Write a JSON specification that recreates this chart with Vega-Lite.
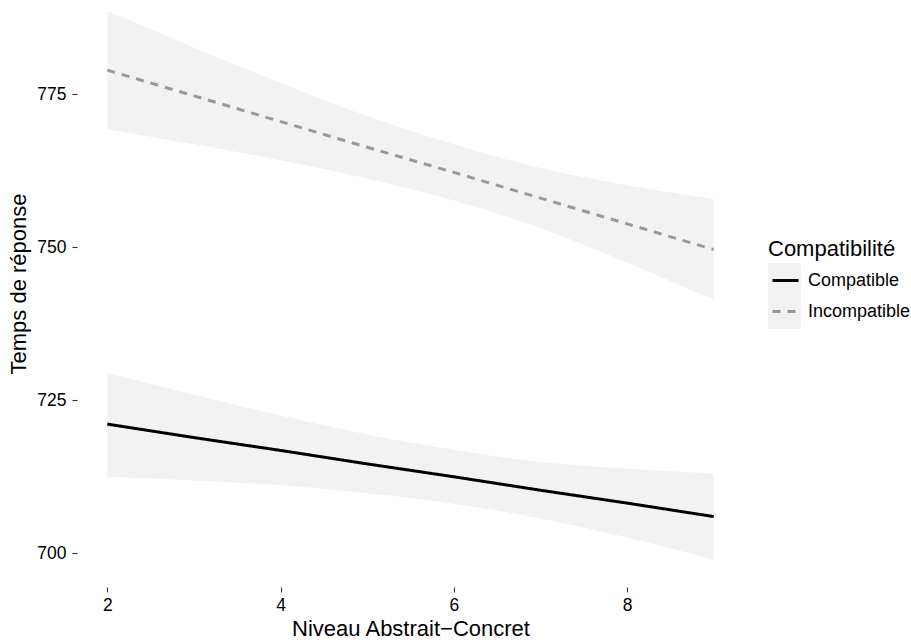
{
  "$schema": "https://vega.github.io/schema/vega-lite/v6.json",
  "width": 667,
  "height": 587,
  "autosize": "none",
  "padding": {"left": 77, "top": 0, "right": 167, "bottom": 57},
  "background": "white",
  "config": {
    "view": {"stroke": null},
    "font": "Liberation Sans",
    "axis": {
      "grid": false,
      "domain": false,
      "tickColor": "#333333",
      "tickSize": 5,
      "tickWidth": 1.1,
      "labelColor": "#000000",
      "labelFontSize": 17.5,
      "titleFontSize": 22,
      "titleFontWeight": "normal",
      "titleColor": "#000000"
    }
  },
  "data": {
    "values": [
      {"group": "Compatible", "x": 2, "fit": 721.1, "lo": 712.5, "hi": 729.5},
      {"group": "Compatible", "x": 3, "fit": 718.9, "lo": 711.9, "hi": 725.9},
      {"group": "Compatible", "x": 4, "fit": 716.8, "lo": 711.1, "hi": 722.5},
      {"group": "Compatible", "x": 5, "fit": 714.6, "lo": 709.8, "hi": 719.4},
      {"group": "Compatible", "x": 6, "fit": 712.5, "lo": 708.1, "hi": 716.9},
      {"group": "Compatible", "x": 7, "fit": 710.3, "lo": 705.7, "hi": 714.9},
      {"group": "Compatible", "x": 8, "fit": 708.2, "lo": 702.6, "hi": 713.8},
      {"group": "Compatible", "x": 9, "fit": 706.0, "lo": 698.95, "hi": 713.05},
      {"group": "Incompatible", "x": 2, "fit": 778.9, "lo": 769.2, "hi": 788.6},
      {"group": "Incompatible", "x": 3, "fit": 774.7, "lo": 766.8, "hi": 782.6},
      {"group": "Incompatible", "x": 4, "fit": 770.5, "lo": 764.2, "hi": 776.8},
      {"group": "Incompatible", "x": 5, "fit": 766.3, "lo": 761.2, "hi": 771.4},
      {"group": "Incompatible", "x": 6, "fit": 762.2, "lo": 757.6, "hi": 766.8},
      {"group": "Incompatible", "x": 7, "fit": 758.0, "lo": 753.1, "hi": 762.9},
      {"group": "Incompatible", "x": 8, "fit": 753.8, "lo": 747.5, "hi": 760.1},
      {"group": "Incompatible", "x": 9, "fit": 749.6, "lo": 741.35, "hi": 757.85}
    ]
  },
  "layer": [
    {
      "mark": {"type": "area", "interpolate": "monotone", "opacity": 1},
      "encoding": {
        "x": {
          "field": "x", "type": "quantitative",
          "scale": {"domain": [1.65, 9.35], "nice": false, "zero": false},
          "axis": {"values": [2, 4, 6, 8], "format": "d", "title": "Niveau Abstrait−Concret", "labelPadding": 4, "titleY": 48.7, "titleBaseline": "alphabetic"}
        },
        "y": {
          "field": "lo", "type": "quantitative",
          "scale": {"domain": [694.5, 790.35], "nice": false, "zero": false},
          "axis": {"values": [700, 725, 750, 775], "title": "Temps de réponse", "labelPadding": 6, "titleX": -52, "titleY": 283.5, "titleBaseline": "alphabetic"}
        },
        "y2": {"field": "hi"},
        "fill": {
          "field": "group", "type": "nominal",
          "scale": {"domain": ["Compatible", "Incompatible"], "range": ["#F2F2F2", "#F2F2F2"]},
          "legend": {"title": null, "orient": "none", "legendX": 691, "legendY": 263, "symbolType": "square", "symbolSize": 1089, "symbolStrokeWidth": 0, "symbolOpacity": 1, "labelExpr": "''", "labelFontSize": 17, "rowPadding": 0, "zindex": 0}
        }
      }
    },
    {
      "mark": {"type": "line", "strokeWidth": 3},
      "encoding": {
        "x": {"field": "x", "type": "quantitative"},
        "y": {"field": "fit", "type": "quantitative"},
        "color": {
          "field": "group", "type": "nominal",
          "scale": {"range": ["#000000", "#999999"]},
          "legend": {"title": "Compatibilité", "orient": "none", "legendX": 691, "legendY": 239, "titleFontSize": 22, "titleFontWeight": "normal", "titleColor": "#000000", "titlePadding": 5, "labelFontSize": 18, "labelColor": "#000000", "symbolType": "stroke", "symbolSize": 676, "symbolStrokeWidth": 3, "symbolOffset": 3, "labelOffset": 8, "rowPadding": 7, "zindex": 1}
        },
        "strokeDash": {
          "field": "group", "type": "nominal",
          "scale": {"range": [[1, 0], [8, 7]]}
        }
      }
    }
  ]
}
